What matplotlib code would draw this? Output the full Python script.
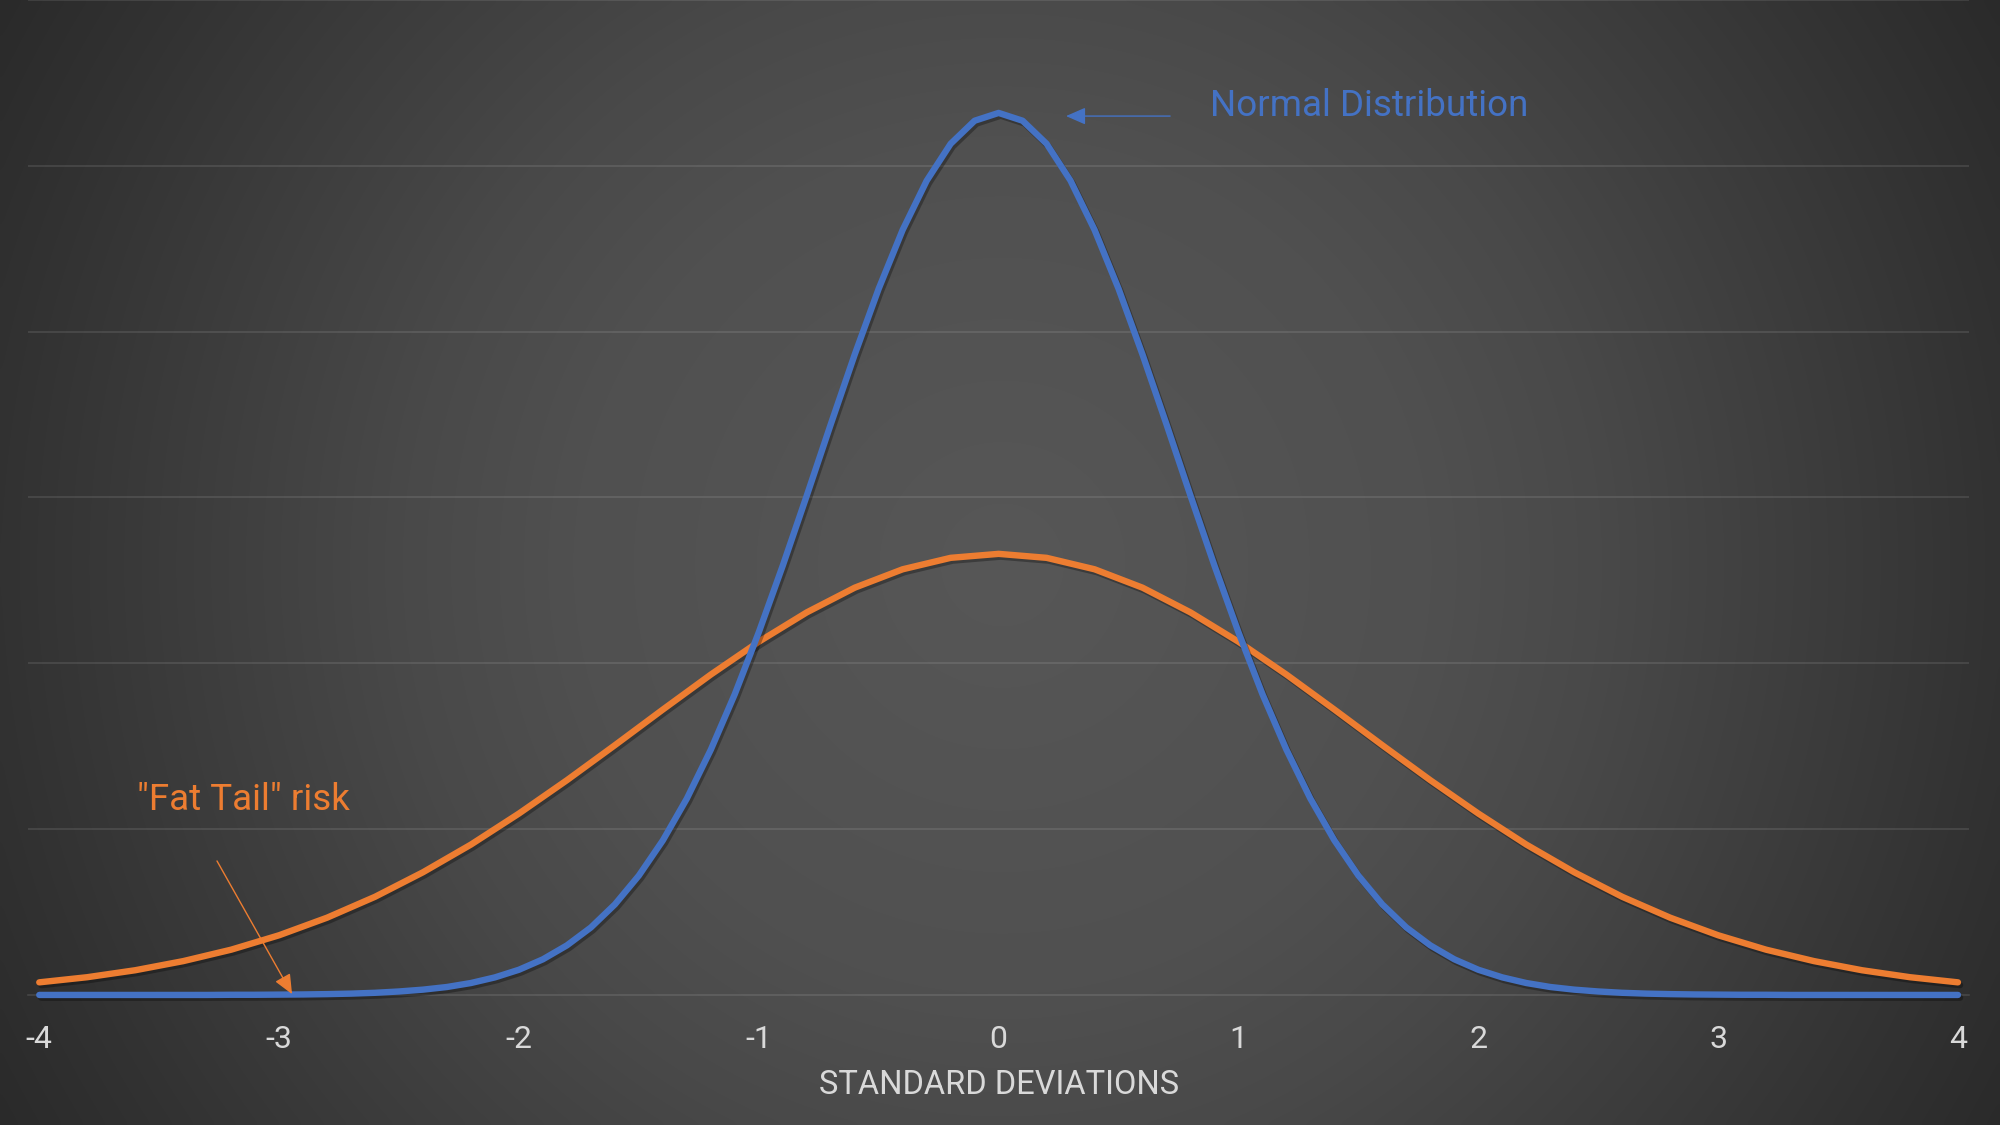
import matplotlib
matplotlib.use('Agg')
import matplotlib.pyplot as plt
import matplotlib.patheffects as pe
import numpy as np

# --- data ---
# normal curve, sampled every 0.1 sd
normal_x = [-4.0, -3.9, -3.8, -3.7, -3.6, -3.5, -3.4, -3.3, -3.2, -3.1,
            -3.0, -2.9, -2.8, -2.7, -2.6, -2.5, -2.4, -2.3, -2.2, -2.1,
            -2.0, -1.9, -1.8, -1.7, -1.6, -1.5, -1.4, -1.3, -1.2, -1.1,
            -1.0, -0.9, -0.8, -0.7, -0.6, -0.5, -0.4, -0.3, -0.2, -0.1,
            0.0, 0.1, 0.2, 0.3, 0.4, 0.5, 0.6, 0.7, 0.8, 0.9,
            1.0, 1.1, 1.2, 1.3, 1.4, 1.5, 1.6, 1.7, 1.8, 1.9,
            2.0, 2.1, 2.2, 2.3, 2.4, 2.5, 2.6, 2.7, 2.8, 2.9,
            3.0, 3.1, 3.2, 3.3, 3.4, 3.5, 3.6, 3.7, 3.8, 3.9, 4.0]
normal_y = [0.0, 0.0, 0.0, 0.0, 0.0, 0.0, 0.0, 0.0, 0.0001, 0.0001,
            0.0002, 0.0003, 0.0005, 0.0008, 0.0013, 0.0021, 0.0032, 0.0048, 0.0072, 0.0106,
            0.0152, 0.0215, 0.0299, 0.0407, 0.0546, 0.0720, 0.0932, 0.1184, 0.1479, 0.1814,
            0.2187, 0.2589, 0.3011, 0.3441, 0.3862, 0.4259, 0.4614, 0.4910, 0.5133, 0.5272,
            0.5319, 0.5272, 0.5133, 0.4910, 0.4614, 0.4259, 0.3862, 0.3441, 0.3011, 0.2589,
            0.2187, 0.1814, 0.1479, 0.1184, 0.0932, 0.0720, 0.0546, 0.0407, 0.0299, 0.0215,
            0.0152, 0.0106, 0.0072, 0.0048, 0.0032, 0.0021, 0.0013, 0.0008, 0.0005, 0.0003,
            0.0002, 0.0001, 0.0001, 0.0, 0.0, 0.0, 0.0, 0.0, 0.0, 0.0, 0.0]

# fat tail curve, sampled every 0.2 sd
fat_x = [-4.0, -3.8, -3.6, -3.4, -3.2, -3.0, -2.8, -2.6, -2.4, -2.2,
         -2.0, -1.8, -1.6, -1.4, -1.2, -1.0, -0.8, -0.6, -0.4, -0.2,
         0.0, 0.2, 0.4, 0.6, 0.8, 1.0, 1.2, 1.4, 1.6, 1.8,
         2.0, 2.2, 2.4, 2.6, 2.8, 3.0, 3.2, 3.4, 3.6, 3.8, 4.0]
fat_y = [0.0076, 0.0107, 0.0149, 0.0204, 0.0273, 0.0360, 0.0466, 0.0592, 0.0740, 0.0907,
         0.1094, 0.1295, 0.1506, 0.1721, 0.1932, 0.2130, 0.2307, 0.2456, 0.2567, 0.2636,
         0.2660, 0.2636, 0.2567, 0.2456, 0.2307, 0.2130, 0.1932, 0.1721, 0.1506, 0.1295,
         0.1094, 0.0907, 0.0740, 0.0592, 0.0466, 0.0360, 0.0273, 0.0204, 0.0149, 0.0107, 0.0076]

xticks = [-4, -3, -2, -1, 0, 1, 2, 3, 4]
xtick_labels = ['-4', '-3', '-2', '-1', '0', '1', '2', '3', '4']

BLUE = '#4472C4'
ORANGE = '#ED7D31'
TXT = '#D9D9D9'

plt.rcParams['font.family'] = ['Roboto', 'DejaVu Sans']

fig = plt.figure(figsize=(20, 11.25), dpi=100)

# radial background (dark edges, lighter centre)
bg = fig.add_axes([0, 0, 1, 1], zorder=-10)
h, w = 225, 400
yy, xx = np.mgrid[0:h, 0:w]
r = np.hypot((xx - w / 2) * 5, (yy - h * 0.5) * 5)
shade = np.interp(r, [0, 430, 600, 1000, 1150], [87, 80, 73, 50, 42]) / 255.0
bg.imshow(np.dstack([shade, shade, shade]), aspect='auto', extent=[0, 1, 0, 1],
          interpolation='bicubic')
bg.set_axis_off()

ax = fig.add_axes([0.014, 0.1156, 0.9705, 0.8844])
ax.set_facecolor('none')
ax.set_xlim(-4.047, 4.046)
ax.set_ylim(0, 0.6)

ax.set_yticks([0.1, 0.2, 0.3, 0.4, 0.5, 0.6])
ax.yaxis.grid(True, color='white', alpha=0.13, linewidth=1.1)
ax.set_axisbelow(True)
ax.tick_params(axis='y', left=False, labelleft=False)
ax.set_xticks(xticks)
ax.set_xticklabels(xtick_labels)
ax.tick_params(axis='x', length=0, pad=21.5, labelsize=23, labelcolor=TXT)
for s in ['top', 'left', 'right']:
    ax.spines[s].set_visible(False)
ax.spines['bottom'].set_color((1, 1, 1, 0.13))
ax.spines['bottom'].set_linewidth(1.1)

shadow = [pe.SimpleLineShadow(offset=(1.5, -2), shadow_color='black', alpha=0.3), pe.Normal()]
ax.plot(fat_x, fat_y, color=ORANGE, lw=4.6, solid_capstyle='round', solid_joinstyle='round',
        path_effects=shadow, clip_on=False, zorder=3)
ax.plot(normal_x, normal_y, color=BLUE, lw=4.6, solid_capstyle='round', solid_joinstyle='round',
        path_effects=shadow, clip_on=False, zorder=4)

# annotations
ax.annotate('', xy=(0.281, 0.530), xytext=(0.715, 0.530),
            arrowprops=dict(arrowstyle='-|>,head_length=0.8,head_width=0.35', color=BLUE, lw=1.0,
                            mutation_scale=15, shrinkA=0, shrinkB=0))
ax.text(0.882, 0.530, 'Normal Distribution', color=BLUE, fontsize=26.5, va='baseline', ha='left')

ax.annotate('', xy=(-2.946, 0.0005), xytext=(-3.259, 0.0808),
            arrowprops=dict(arrowstyle='-|>,head_length=0.8,head_width=0.35', color=ORANGE, lw=1.0,
                            mutation_scale=15, shrinkA=0, shrinkB=0), zorder=6)
ax.text(-3.593, 0.1116, '"Fat Tail" risk', color=ORANGE, fontsize=26.5, va='baseline', ha='left')

fig.text(0.4995, 1 - 1094.3 / 1125, 'STANDARD DEVIATIONS', color=TXT, fontsize=23.5,
         ha='center', va='baseline')

fig.savefig('out.png', dpi=100)
